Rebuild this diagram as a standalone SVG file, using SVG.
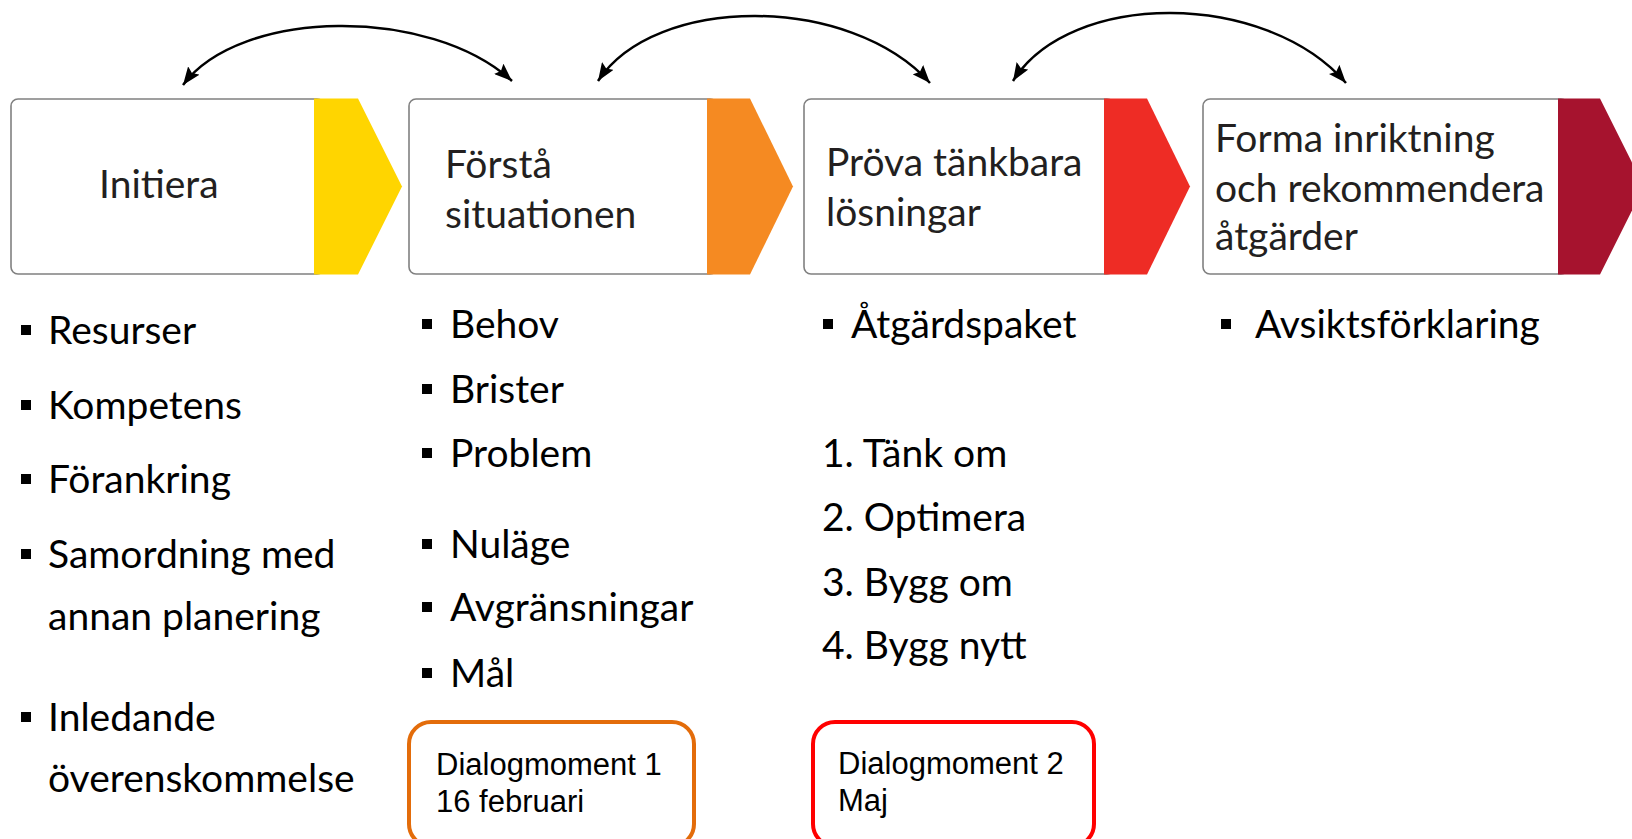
<svg xmlns="http://www.w3.org/2000/svg" width="1632" height="839" viewBox="0 0 1632 839">
<style>
.box{fill:#fff;stroke:#808080;stroke-width:1.6}
.title{font-family:Lato,"Open Sans",sans-serif;font-size:39px;fill:#231f20}
.body{font-family:Lato,"Open Sans",sans-serif;font-size:39px;fill:#000}
.bul{fill:#000}
.dlg{font-family:"Liberation Sans",Arial,sans-serif;font-size:31px;fill:#000}
.arc{fill:none;stroke:#000;stroke-width:2.5}
</style>
<defs>
<marker id="ah" viewBox="0 0 18 14" refX="18" refY="7" markerWidth="18" markerHeight="14" markerUnits="userSpaceOnUse" orient="auto-start-reverse">
<path d="M0,0 L18,7 L0,14 L3,7 z" fill="#000"/>
</marker>
</defs>
<rect width="1632" height="839" fill="#fff"/>

<g id="connectors">
<path class="arc" d="M183,85 C240,8 430,6 512,81" marker-start="url(#ah)" marker-end="url(#ah)"/>
<path class="arc" d="M598,81 C655,-6 850,-6 930,83" marker-start="url(#ah)" marker-end="url(#ah)"/>
<path class="arc" d="M1013,81 C1070,-10 1265,-10 1346,83" marker-start="url(#ah)" marker-end="url(#ah)"/>
</g>

<g id="node-initiera">
<rect class="box" x="11" y="99" width="313" height="175" rx="7"/>
<polygon points="314,98.5 358,98.5 402,186.5 358,274.5 314,274.5" fill="#ffd500"/>
<text class="title" x="99" y="198">Initiera</text>
</g>
<g id="node-forsta">
<rect class="box" x="409" y="99" width="308" height="175" rx="7"/>
<polygon points="707,98.5 750,98.5 793,186.5 750,274.5 707,274.5" fill="#f58a22"/>
<text class="title" x="445" y="178">Förstå</text>
<text class="title" x="445" y="228">situationen</text>
</g>
<g id="node-prova">
<rect class="box" x="804" y="99" width="310" height="175" rx="7"/>
<polygon points="1104,98.5 1147,98.5 1190,186.5 1147,274.5 1104,274.5" fill="#ee2c25"/>
<text class="title" x="826" y="176">Pröva tänkbara</text>
<text class="title" x="826" y="226">lösningar</text>
</g>
<g id="node-forma">
<rect class="box" x="1203" y="99" width="365" height="175" rx="7"/>
<polygon points="1558,98.5 1600,98.5 1644,186.5 1600,274.5 1558,274.5" fill="#a6132e"/>
<text class="title" x="1215" y="152">Forma inriktning</text>
<text class="title" x="1215" y="202">och rekommendera</text>
<text class="title" x="1215" y="250">åtgärder</text>
</g>

<g id="list-initiera">
<rect class="bul" x="21" y="325" width="10" height="10"/>
<text class="body" x="48" y="344">Resurser</text>
<rect class="bul" x="21" y="400" width="10" height="10"/>
<text class="body" x="48" y="419">Kompetens</text>
<rect class="bul" x="21" y="474" width="10" height="10"/>
<text class="body" x="48" y="493">Förankring</text>
<rect class="bul" x="21" y="549" width="10" height="10"/>
<text class="body" x="48" y="568">Samordning med</text>
<text class="body" x="48" y="630">annan planering</text>
<rect class="bul" x="21" y="712" width="10" height="10"/>
<text class="body" x="48" y="731">Inledande</text>
<text class="body" x="48" y="792">överenskommelse</text>
</g>

<g id="list-forsta">
<rect class="bul" x="422" y="319" width="10" height="10"/>
<text class="body" x="450" y="338">Behov</text>
<rect class="bul" x="422" y="384" width="10" height="10"/>
<text class="body" x="450" y="403">Brister</text>
<rect class="bul" x="422" y="448" width="10" height="10"/>
<text class="body" x="450" y="467">Problem</text>
<rect class="bul" x="422" y="539" width="10" height="10"/>
<text class="body" x="450" y="558">Nuläge</text>
<rect class="bul" x="422" y="602" width="10" height="10"/>
<text class="body" x="450" y="621">Avgränsningar</text>
<rect class="bul" x="422" y="668" width="10" height="10"/>
<text class="body" x="450" y="687">Mål</text>
</g>

<g id="list-prova">
<rect class="bul" x="823" y="319" width="10" height="10"/>
<text class="body" x="851" y="338">Åtgärdspaket</text>
<text class="body" x="822" y="467">1. Tänk om</text>
<text class="body" x="822" y="531">2. Optimera</text>
<text class="body" x="822" y="596">3. Bygg om</text>
<text class="body" x="822" y="659">4. Bygg nytt</text>
</g>

<g id="list-forma">
<rect class="bul" x="1221" y="319" width="10" height="10"/>
<text class="body" x="1255" y="338">Avsiktsförklaring</text>
</g>

<g id="dialog-1">
<rect x="409" y="722" width="285" height="124" rx="22" fill="#fff" stroke="#e36c0a" stroke-width="4"/>
<text class="dlg" x="436" y="775">Dialogmoment 1</text>
<text class="dlg" x="436" y="812">16 februari</text>
</g>
<g id="dialog-2">
<rect x="813" y="722" width="281" height="124" rx="22" fill="#fff" stroke="#ff0000" stroke-width="4"/>
<text class="dlg" x="838" y="774">Dialogmoment 2</text>
<text class="dlg" x="838" y="811">Maj</text>
</g>
</svg>
